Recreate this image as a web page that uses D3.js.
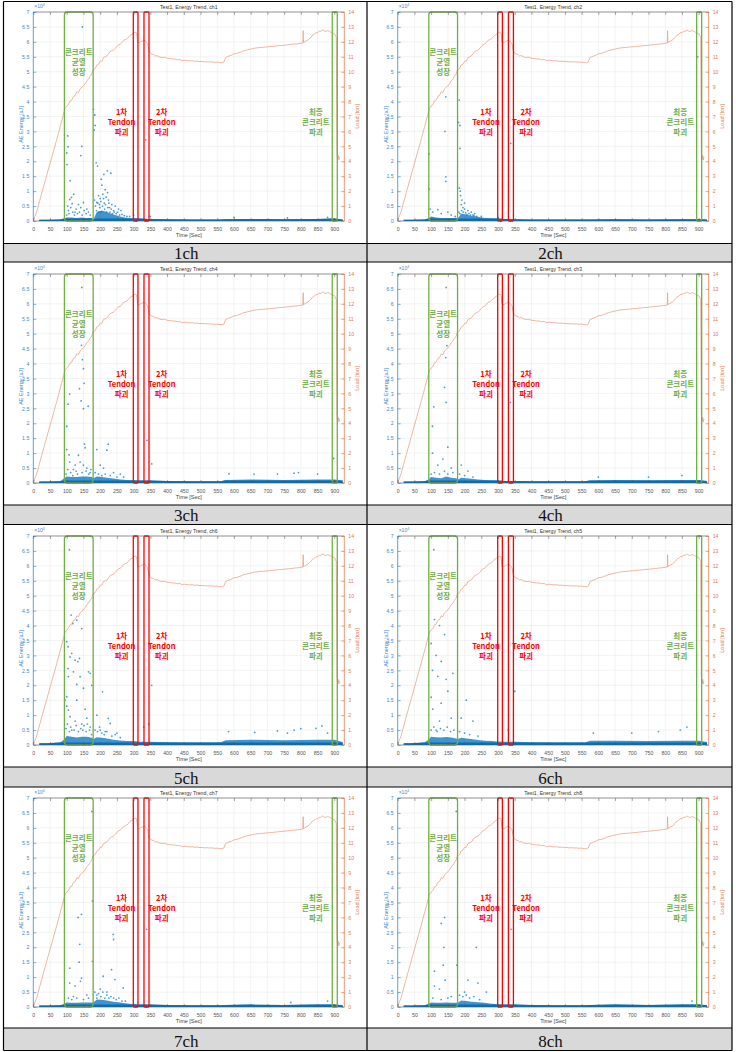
<!DOCTYPE html>
<html>
<head>
<meta charset="utf-8">
<script src="https://cdn.jsdelivr.net/npm/d3@7"></script>
<style>
  body { margin: 0; background: #fff; }
  svg { display: block; }
</style>
</head>
<body>
<script>
// ---------- data ----------
var captions = ['1ch', '2ch', '3ch', '4ch', '5ch', '6ch', '7ch', '8ch'];
var titles = ['ch1', 'ch2', 'ch4', 'ch3', 'ch6', 'ch5', 'ch7', 'ch8'];

var timeTicks = [0, 50, 100, 150, 200, 250, 300, 350, 400, 450, 500, 550, 600, 650, 700, 750, 800, 850, 900];
var energyTicks = [0, 0.5, 1, 1.5, 2, 2.5, 3, 3.5, 4, 4.5, 5, 5.5, 6, 6.5, 7];
var loadTicks = [0, 1, 2, 3, 4, 5, 6, 7, 8, 9, 10, 11, 12, 13, 14];

// load [ton] vs time [sec], same test for every channel
var loadCurve = [
  [0, 0.05], [10, 0.6], [25, 1.85], [40, 3.05], [55, 4.25], [70, 5.45], [85, 6.7], [95, 7.55],
  [100, 7.7], [105, 7.8], [110, 8.05], [115, 8.1], [120, 8.35], [125, 8.4], [130, 8.65], [135, 8.6],
  [140, 8.85], [145, 8.95], [150, 9.05], [155, 9.2], [160, 9.4], [165, 9.5], [170, 9.7], [175, 9.85],
  [178, 10.1], [185, 10.2], [190, 10.45], [195, 10.5], [200, 10.7], [205, 10.7], [210, 10.95], [215, 11.0],
  [220, 11.05], [225, 11.2], [230, 11.35], [235, 11.4], [240, 11.45], [245, 11.55], [250, 11.7], [255, 11.8],
  [260, 11.85], [265, 11.95], [270, 12.1], [275, 12.15], [280, 12.2], [285, 12.3], [290, 12.45], [295, 12.5],
  [300, 12.6], [305, 12.65], [309, 12.6], [312, 11.95], [318, 11.95], [325, 12.05], [332, 12.1], [338, 12.0],
  [342, 11.85], [346, 11.4], [352, 11.2], [360, 11.15], [365, 11.05], [370, 11.08], [378, 10.98], [385, 10.95],
  [392, 10.98], [400, 10.9], [408, 10.88], [415, 10.85], [422, 10.86], [430, 10.8], [438, 10.82], [445, 10.74],
  [452, 10.77], [460, 10.75], [468, 10.72], [475, 10.74], [482, 10.7], [490, 10.71], [498, 10.68], [505, 10.69],
  [512, 10.66], [520, 10.67], [528, 10.65], [535, 10.66], [542, 10.63], [550, 10.64], [558, 10.61], [565, 10.6],
  [570, 10.65], [575, 10.95], [580, 11.0], [585, 11.05], [592, 11.1], [600, 11.2], [608, 11.22], [615, 11.28],
  [622, 11.33], [630, 11.42], [637, 11.44], [645, 11.5], [652, 11.52], [660, 11.57], [670, 11.6], [680, 11.63],
  [690, 11.64], [700, 11.67], [710, 11.68], [720, 11.71], [730, 11.73], [740, 11.76], [750, 11.77], [760, 11.8],
  [770, 11.82], [780, 11.85], [790, 11.87], [800, 11.9], [806, 11.92], [807, 12.75], [808, 11.95], [815, 12.05],
  [820, 12.1], [825, 12.2], [830, 12.3], [835, 12.45], [840, 12.5], [845, 12.62], [850, 12.6], [855, 12.72],
  [860, 12.7], [865, 12.8], [870, 12.72], [875, 12.7], [880, 12.75], [885, 12.72], [890, 12.65], [895, 12.6],
  [902, 12.5], [906, 12.3], [908, 4.6], [910, 4.1], [912, 4.4], [914, 4.1], [916, 4.3]
];

// marked zones [start, end] in sec
var crackZone = [93, 179];
var tendonZone1 = [299, 313];
var tendonZone2 = [331, 346];
var finalZone = [894, 909];

// dense low-energy band: upper edge (x10^4 aJ) at these times
var bandTimes = [18, 40, 80, 92, 100, 115, 130, 145, 160, 175, 180, 190, 205, 220, 240, 260, 280, 300, 320, 345, 400, 480, 560, 575, 650, 750, 850, 900, 925];
var band1 = [0.04, 0.04, 0.05, 0.08, 0.12, 0.12, 0.1, 0.12, 0.1, 0.1, 0.06, 0.3, 0.35, 0.3, 0.22, 0.15, 0.1, 0.09, 0.08, 0.07, 0.06, 0.05, 0.05, 0.06, 0.07, 0.06, 0.07, 0.08, 0.05];
var band2 = [0.04, 0.04, 0.05, 0.08, 0.15, 0.12, 0.1, 0.1, 0.1, 0.1, 0.08, 0.25, 0.22, 0.18, 0.14, 0.1, 0.09, 0.08, 0.07, 0.06, 0.05, 0.05, 0.05, 0.05, 0.06, 0.05, 0.06, 0.06, 0.05];
var band3 = [0.05, 0.05, 0.06, 0.15, 0.22, 0.2, 0.2, 0.22, 0.22, 0.2, 0.16, 0.22, 0.2, 0.18, 0.15, 0.12, 0.1, 0.09, 0.08, 0.08, 0.07, 0.06, 0.06, 0.1, 0.12, 0.1, 0.12, 0.12, 0.08];
var band4 = [0.05, 0.05, 0.06, 0.12, 0.2, 0.18, 0.16, 0.22, 0.18, 0.16, 0.12, 0.18, 0.16, 0.14, 0.12, 0.1, 0.09, 0.08, 0.07, 0.07, 0.06, 0.06, 0.06, 0.08, 0.1, 0.09, 0.1, 0.1, 0.07];
var band5 = [0.06, 0.06, 0.08, 0.18, 0.3, 0.28, 0.25, 0.28, 0.28, 0.24, 0.2, 0.26, 0.24, 0.22, 0.18, 0.15, 0.13, 0.13, 0.11, 0.11, 0.09, 0.08, 0.08, 0.16, 0.18, 0.16, 0.18, 0.18, 0.1];
var band6 = [0.06, 0.06, 0.08, 0.18, 0.28, 0.26, 0.25, 0.27, 0.25, 0.22, 0.2, 0.24, 0.22, 0.2, 0.17, 0.14, 0.13, 0.12, 0.11, 0.11, 0.09, 0.08, 0.08, 0.14, 0.14, 0.13, 0.14, 0.14, 0.1];
var band7 = [0.05, 0.05, 0.06, 0.1, 0.15, 0.14, 0.14, 0.15, 0.15, 0.15, 0.15, 0.25, 0.24, 0.22, 0.18, 0.15, 0.12, 0.09, 0.08, 0.08, 0.07, 0.06, 0.06, 0.07, 0.08, 0.07, 0.08, 0.08, 0.06];
var band8 = [0.05, 0.05, 0.06, 0.1, 0.15, 0.14, 0.14, 0.15, 0.14, 0.14, 0.14, 0.22, 0.2, 0.18, 0.16, 0.14, 0.11, 0.09, 0.08, 0.08, 0.07, 0.06, 0.06, 0.07, 0.08, 0.07, 0.08, 0.08, 0.06];

// isolated hits [time, energy x10^4]
var hits1 = [[147, 6.5], [103, 2.85], [104, 2.49], [100, 2.28], [101, 1.89], [145, 2.5], [142, 2.19], [110, 1.35], [121, 0.9], [109, 0.72],
  [116, 0.58], [114, 0.79], [135, 0.55], [142, 0.45], [150, 0.62], [160, 0.4], [105, 0.35], [125, 0.3], [180, 3.74], [184, 3.55],
  [185, 3.2], [182, 3.05], [188, 1.95], [192, 1.84], [203, 1.4], [211, 1.56], [221, 1.68], [232, 1.6], [205, 1.2], [215, 1.05],
  [222, 0.95], [195, 0.85], [200, 0.75], [208, 0.9], [218, 0.8], [225, 0.7], [235, 0.55], [245, 0.5], [255, 0.4], [262, 0.35],
  [190, 0.62], [198, 0.55], [212, 0.6], [228, 0.45], [240, 0.35], [336, 2.72], [300, 0.2], [350, 0.15], [600, 0.12], [760, 0.1], [880, 0.12],
  [100, 0.2], [103, 0.5], [107, 0.25], [112, 0.45], [118, 0.3], [123, 0.2], [128, 0.4], [132, 0.25], [138, 0.3], [146, 0.2], [152, 0.35],
  [158, 0.25], [165, 0.3], [170, 0.2], [183, 0.7], [186, 0.5], [189, 0.35], [193, 0.6], [196, 0.3], [199, 0.45], [202, 0.65], [204, 0.3],
  [207, 0.5], [210, 0.75], [213, 0.4], [216, 0.55], [219, 0.3], [223, 0.45], [226, 0.6], [229, 0.3], [233, 0.4], [237, 0.25], [242, 0.3],
  [248, 0.25], [252, 0.3], [258, 0.2], [265, 0.22], [272, 0.18], [280, 0.15], [288, 0.15]];
var hits2 = [[144, 4.16], [94, 2.24], [94, 1.07], [141, 3.0], [144, 1.48], [144, 1.33], [184, 4.05], [182, 3.3], [186, 3.2], [186, 2.43],
  [184, 1.1], [187, 1.0], [338, 2.6], [897, 5.5], [97, 0.4], [105, 0.3], [120, 0.38], [130, 0.25], [150, 0.3], [160, 0.2], [172, 0.15],
  [190, 0.55], [195, 0.45], [200, 0.4], [210, 0.35], [220, 0.3], [230, 0.25], [192, 0.7], [188, 0.85], [200, 0.6], [225, 0.2], [250, 0.15], [300, 0.12],
  [183, 0.3], [186, 0.25], [191, 0.35], [196, 0.3], [203, 0.28], [207, 0.22], [213, 0.25], [218, 0.2], [228, 0.18], [236, 0.15]];
var hits3 = [[145, 6.55], [144, 4.61], [147, 4.13], [150, 3.83], [138, 3.16], [109, 2.98], [104, 2.64], [100, 1.9], [100, 1.12], [143, 2.75],
  [150, 2.49], [152, 3.34], [164, 2.57], [153, 1.3], [155, 1.18], [107, 0.94], [109, 0.7], [125, 0.6], [135, 0.93], [140, 0.7], [120, 0.45],
  [160, 0.5], [170, 0.35], [224, 1.3], [220, 1.1], [190, 1.12], [200, 0.6], [210, 0.5], [240, 0.35], [260, 0.3], [340, 1.43], [354, 0.64],
  [898, 0.82], [585, 0.31], [660, 0.3], [730, 0.3], [780, 0.33], [793, 0.35], [850, 0.3],
  [98, 0.3], [103, 0.45], [112, 0.35], [118, 0.25], [128, 0.4], [132, 0.3], [146, 0.35], [150, 0.6], [158, 0.4], [166, 0.3], [172, 0.45],
  [185, 0.35], [195, 0.3], [205, 0.25], [215, 0.3], [230, 0.25], [250, 0.2], [270, 0.2]];
var hits4 = [[145, 6.55], [147, 4.6], [144, 4.2], [140, 3.2], [108, 2.55], [145, 2.7], [150, 1.2], [104, 1.9], [104, 1.0], [120, 0.6],
  [135, 0.8], [160, 0.5], [190, 0.6], [210, 0.4], [337, 2.7], [600, 0.2], [750, 0.2], [850, 0.25],
  [100, 0.3], [110, 0.35], [125, 0.3], [140, 0.4], [150, 0.3], [165, 0.35], [185, 0.3], [200, 0.25], [225, 0.2]];
var hits5 = [[108, 6.54], [100, 3.46], [104, 3.29], [113, 4.35], [130, 4.18], [145, 3.9], [118, 4.07], [110, 2.95], [115, 3.07], [125, 2.84],
  [133, 2.79], [138, 2.9], [104, 2.56], [120, 2.45], [140, 2.29], [165, 2.45], [170, 2.4], [175, 2.0], [130, 2.03], [105, 2.29], [100, 1.62],
  [95, 1.5], [100, 1.3], [105, 1.17], [110, 0.95], [150, 1.9], [130, 1.5], [155, 1.2], [160, 0.9], [145, 0.7], [125, 0.8], [170, 0.6],
  [115, 0.5], [207, 1.78], [190, 1.0], [224, 0.89], [230, 0.72], [200, 0.5], [215, 0.45], [250, 0.4], [354, 2.0], [330, 0.6], [345, 0.7],
  [584, 0.45], [662, 0.42], [730, 0.47], [760, 0.4], [780, 0.5], [800, 0.55], [845, 0.56], [863, 0.64], [880, 0.4],
  [98, 0.55], [102, 0.7], [108, 0.45], [112, 0.6], [122, 0.5], [128, 0.65], [135, 0.45], [142, 0.55], [148, 0.5], [152, 0.65], [158, 0.45],
  [162, 0.7], [168, 0.5], [174, 0.35], [185, 0.5], [192, 0.45], [198, 0.6], [205, 0.4], [212, 0.35], [220, 0.45], [235, 0.3], [245, 0.35], [260, 0.25]];
var hits6 = [[108, 6.54], [100, 3.4], [110, 4.2], [125, 4.0], [140, 3.7], [115, 3.0], [130, 2.8], [104, 2.5], [120, 2.3], [145, 2.2],
  [165, 2.4], [100, 1.6], [105, 1.2], [150, 1.8], [130, 1.4], [160, 0.9], [125, 0.8], [115, 0.5], [205, 1.5], [190, 0.9], [225, 0.8],
  [350, 1.8], [330, 0.5], [585, 0.4], [700, 0.4], [780, 0.45], [845, 0.5], [865, 0.6],
  [100, 0.5], [108, 0.6], [118, 0.45], [128, 0.55], [138, 0.5], [148, 0.6], [158, 0.45], [168, 0.5], [185, 0.45], [200, 0.4], [215, 0.35], [240, 0.3]];
var hits7 = [[175, 6.55], [144, 3.1], [134, 3.0], [139, 2.1], [137, 1.5], [144, 0.97], [141, 0.86], [109, 1.3], [109, 0.8], [125, 0.7],
  [177, 3.55], [177, 1.53], [239, 2.43], [240, 2.26], [209, 1.03], [234, 1.25], [244, 0.92], [269, 0.64], [200, 0.6], [220, 0.5],
  [339, 2.6], [770, 0.15], [880, 0.2], [190, 0.4], [160, 0.4], [120, 0.35],
  [184, 0.5], [190, 0.3], [195, 0.45], [202, 0.35], [208, 0.5], [214, 0.3], [220, 0.4], [226, 0.3], [232, 0.35], [240, 0.3], [248, 0.25],
  [256, 0.3], [265, 0.2], [275, 0.2], [105, 0.3], [115, 0.25], [130, 0.3], [150, 0.25], [165, 0.3]];
var hits8 = [[175, 6.55], [140, 3.0], [130, 2.8], [138, 2.0], [136, 1.4], [142, 0.9], [110, 1.2], [110, 0.7], [125, 0.6], [177, 1.4],
  [235, 2.0], [210, 0.9], [240, 0.8], [265, 0.5], [200, 0.5], [339, 2.6], [880, 0.2], [160, 0.35],
  [185, 0.4], [195, 0.35], [205, 0.4], [215, 0.3], [228, 0.35], [245, 0.25], [105, 0.3], [130, 0.25], [150, 0.3]];

var bands = [band1, band2, band3, band4, band5, band6, band7, band8];
var hits = [hits1, hits2, hits3, hits4, hits5, hits6, hits7, hits8];

// ---------- layout ----------
var W = 736, H = 1052;
var colX = [3.5, 367, 732];
var rowTop = [1.5, 262, 524.5, 787];
var capTop = [243.5, 505, 767, 1028];
var capBottom = [262, 524.5, 787, 1050.5];
var plotLeft = [33.3, 397.7];
var plotTop = [12, 274, 536, 798];
var plotW = 311, plotH = 209;

var BLUE = '#0072BD', ORANGE = '#D95319', GREEN = '#70AD47', RED = '#FF0000';
var SANS = 'Liberation Sans, Arial, sans-serif';
var KR = '"Noto Sans CJK KR", sans-serif';

var svg = d3.select('body').append('svg').attr('width', W).attr('height', H);

// table backgrounds
capTop.forEach(function(y, i) {
  svg.append('rect').attr('x', colX[0]).attr('y', y).attr('width', colX[2] - colX[0])
    .attr('height', capBottom[i] - y).attr('fill', '#d9d9d9');
});

function drawPanel(k) {
  var c = k % 2, r = Math.floor(k / 2);
  var x = d3.scaleLinear().domain([0, 930]).range([plotLeft[c], plotLeft[c] + plotW]);
  var yE = d3.scaleLinear().domain([0, 7]).range([plotTop[r] + plotH, plotTop[r]]);
  var yL = d3.scaleLinear().domain([0, 14]).range([plotTop[r] + plotH, plotTop[r]]);
  var g = svg.append('g').attr('class', 'panel');
  var x0 = x.range()[0], x1 = x.range()[1], y0 = yE.range()[0], y1 = yE.range()[1];

  // grid
  g.append('g').selectAll('line').data(timeTicks).enter().append('line')
    .attr('x1', function(d) { return x(d); }).attr('x2', function(d) { return x(d); })
    .attr('y1', y0).attr('y2', y1).attr('stroke', '#ebebeb').attr('stroke-width', 0.6);
  g.append('g').selectAll('line').data(energyTicks).enter().append('line')
    .attr('y1', function(d) { return yE(d); }).attr('y2', function(d) { return yE(d); })
    .attr('x1', x0).attr('x2', x1).attr('stroke', '#ebebeb').attr('stroke-width', 0.6);

  // dense band: cloud plus a dark core at the baseline
  var area = d3.area()
    .x(function(d, i) { return x(bandTimes[i]); })
    .y0(yE(0)).y1(function(d) { return yE(d); });
  var core = d3.area()
    .x(function(d, i) { return x(bandTimes[i]); })
    .y0(yE(0)).y1(function(d) { return yE(Math.min(d, 0.08)); });
  g.append('path').datum(bands[k]).attr('d', area).attr('fill', BLUE).attr('opacity', 0.75);
  g.append('path').datum(bands[k]).attr('d', core).attr('fill', BLUE);

  // isolated hits
  g.append('g').selectAll('circle').data(hits[k]).enter().append('circle')
    .attr('cx', function(d) { return x(d[0]); }).attr('cy', function(d) { return yE(d[1]); })
    .attr('r', 0.9).attr('fill', BLUE).attr('opacity', 0.7);

  // load line
  var line = d3.line().x(function(d) { return x(d[0]); }).y(function(d) { return yL(d[1]); });
  g.append('path').datum(loadCurve).attr('d', line).attr('fill', 'none')
    .attr('stroke', '#E8987A').attr('stroke-width', 0.7);

  // zones
  function zone(z, col, rad) {
    g.append('rect').attr('x', x(z[0])).attr('y', y1).attr('width', x(z[1]) - x(z[0]))
      .attr('height', y0 - y1).attr('rx', rad).attr('fill', 'none')
      .attr('stroke', col).attr('stroke-width', 1.3);
  }
  zone(crackZone, GREEN, 3);
  zone(tendonZone1, RED, 1);
  zone(tendonZone2, RED, 1);
  zone(finalZone, GREEN, 1);

  // annotations
  function note(lines, t, top, col) {
    var tx = g.append('text').attr('x', x(t)).attr('y', top).attr('text-anchor', 'middle')
      .attr('font-family', KR).attr('font-weight', 'bold').attr('font-size', 7.5).attr('fill', col);
    lines.forEach(function(s, i) {
      tx.append('tspan').attr('x', x(t)).attr('dy', i === 0 ? 0 : 10).text(s);
    });
  }
  note(['콘크리트', '균열', '성장'], (crackZone[0] + crackZone[1]) / 2, y1 + 42.5, GREEN);
  note(['1차', 'Tendon', '파괴'], 264, y1 + 102.5, RED);
  note(['2차', 'Tendon', '파괴'], 384, y1 + 102.5, RED);
  note(['최종', '콘크리트', '파괴'], 845, y1 + 102.5, GREEN);

  // frame
  g.append('line').attr('x1', x0).attr('x2', x1).attr('y1', y1).attr('y2', y1).attr('stroke', '#555').attr('stroke-width', 0.6);
  g.append('line').attr('x1', x0).attr('x2', x1).attr('y1', y0).attr('y2', y0).attr('stroke', '#555').attr('stroke-width', 0.6);
  g.append('line').attr('x1', x0).attr('x2', x0).attr('y1', y0).attr('y2', y1).attr('stroke', BLUE).attr('stroke-width', 0.6);
  g.append('line').attr('x1', x1).attr('x2', x1).attr('y1', y0).attr('y2', y1).attr('stroke', ORANGE).attr('stroke-width', 0.6);

  // axes (inward ticks)
  var ax = g.append('g').attr('transform', 'translate(0,' + y0 + ')')
    .call(d3.axisBottom(x).tickValues(timeTicks).tickSize(-3).tickPadding(6).tickFormat(d3.format('d')));
  var axTop = g.append('g').attr('transform', 'translate(0,' + y1 + ')')
    .call(d3.axisTop(x).tickValues(timeTicks).tickSize(-3).tickFormat(''));
  var ayl = g.append('g').attr('transform', 'translate(' + x0 + ',0)')
    .call(d3.axisLeft(yE).tickValues(energyTicks).tickSize(-3).tickPadding(4).tickFormat(d3.format('')));
  var ayr = g.append('g').attr('transform', 'translate(' + x1 + ',0)')
    .call(d3.axisRight(yL).tickValues(loadTicks).tickSize(-3).tickPadding(4).tickFormat(d3.format('d')));
  [ax, axTop, ayl, ayr].forEach(function(a) { a.select('.domain').remove(); });
  ax.selectAll('line').attr('stroke', '#555').attr('stroke-width', 0.5);
  axTop.selectAll('line').attr('stroke', '#555').attr('stroke-width', 0.5);
  ayl.selectAll('line').attr('stroke', BLUE).attr('stroke-width', 0.5);
  ayr.selectAll('line').attr('stroke', ORANGE).attr('stroke-width', 0.5);
  ax.selectAll('text').attr('font-family', SANS).attr('font-size', 5.2).attr('fill', '#555');
  ayl.selectAll('text').attr('font-family', SANS).attr('font-size', 5.2).attr('fill', '#3a8ac9');
  ayr.selectAll('text').attr('font-family', SANS).attr('font-size', 5.2).attr('fill', '#e07a50');

  // labels
  g.append('text').attr('x', (x0 + x1) / 2).attr('y', y1 - 3).attr('text-anchor', 'middle')
    .attr('font-family', SANS).attr('font-size', 5.2).attr('fill', '#333')
    .text('Test1, Energy Trend, ' + titles[k]);
  g.append('text').attr('x', (x0 + x1) / 2).attr('y', y0 + 16).attr('text-anchor', 'middle')
    .attr('font-family', SANS).attr('font-size', 5.5).attr('fill', '#444').text('Time [Sec]');
  var mult = g.append('text').attr('x', x0 + 1).attr('y', y1 - 4)
    .attr('font-family', SANS).attr('font-size', 5).attr('fill', '#3a8ac9');
  mult.append('tspan').text('\u00d710');
  mult.append('tspan').attr('dy', -2).attr('font-size', 3.5).text('4');
  g.append('text').attr('transform', 'translate(' + (x0 - 10) + ',' + ((y0 + y1) / 2 + 8) + ') rotate(-90)')
    .attr('text-anchor', 'middle').attr('font-family', SANS).attr('font-size', 5.5).attr('fill', '#3a8ac9')
    .text('AE Energy [aJ]');
  g.append('text').attr('transform', 'translate(' + (x1 + 15) + ',' + ((y0 + y1) / 2) + ') rotate(-90)')
    .attr('text-anchor', 'middle').attr('font-family', SANS).attr('font-size', 5.5).attr('fill', '#e07a50')
    .text('Load [ton]');

  // caption
  svg.append('text').attr('x', (colX[c] + colX[c + 1]) / 2 + 1).attr('y', capBottom[r] - 3.5)
    .attr('text-anchor', 'middle').attr('font-family', 'Liberation Serif, serif').attr('font-size', 17)
    .attr('fill', '#111').text(captions[k]);
}

for (var k = 0; k < 8; k++) drawPanel(k);

// table rules
var rules = svg.append('g').attr('stroke', '#000').attr('stroke-width', 1.2);
[rowTop[0]].concat(capTop, capBottom).forEach(function(y) {
  rules.append('line').attr('x1', colX[0]).attr('x2', colX[2]).attr('y1', y).attr('y2', y);
});
colX.forEach(function(xv) {
  rules.append('line').attr('x1', xv).attr('x2', xv).attr('y1', rowTop[0]).attr('y2', capBottom[3]);
});
</script>
</body>
</html>
